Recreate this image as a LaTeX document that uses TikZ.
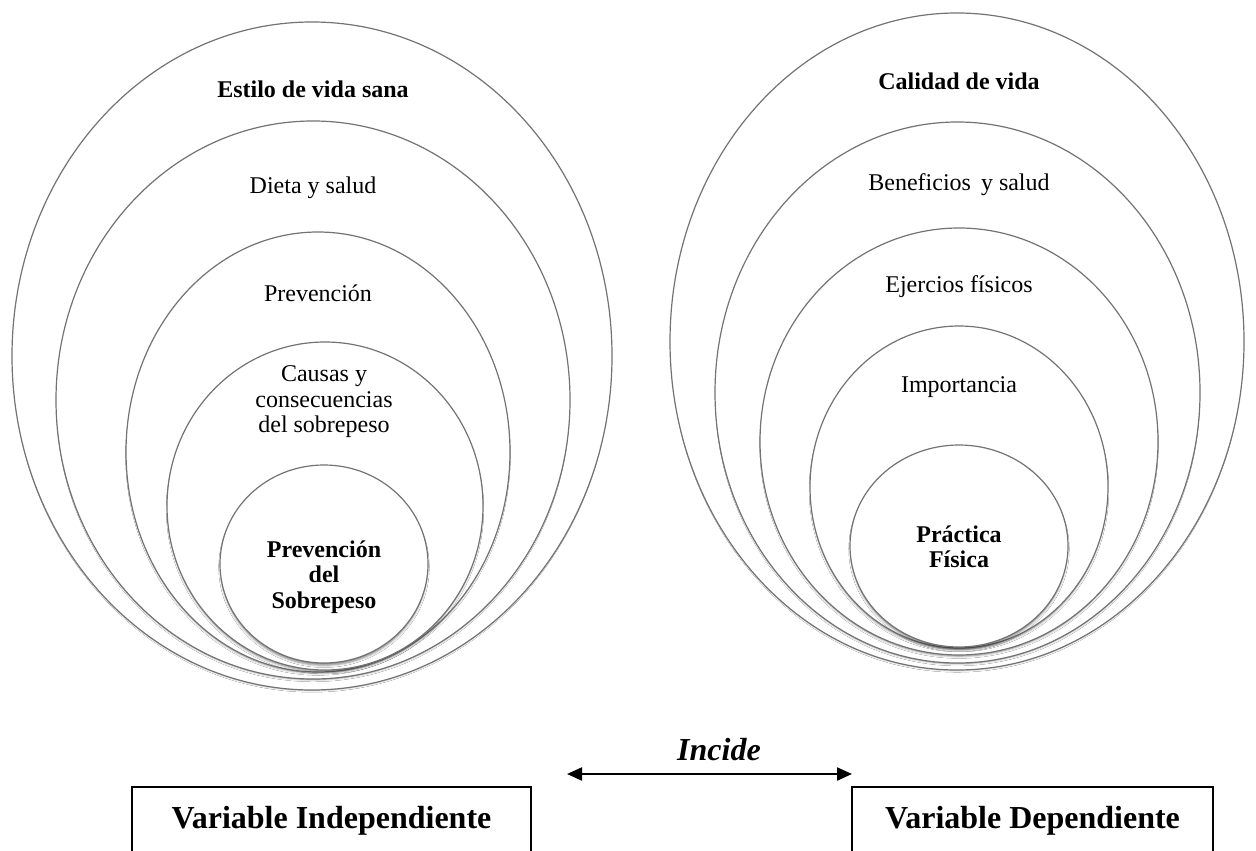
\documentclass[tikz,border=0pt]{standalone}
\usepackage{fontspec}
\setmainfont{Liberation Serif}
\usetikzlibrary{shapes.geometric,arrows.meta,shadows.blur}
\begin{document}
\begin{tikzpicture}[x=0.5pt,y=-0.5pt,
  ring/.style={ellipse, draw=black!55, line width=0.6pt, fill=white, inner sep=0pt,
    blur shadow={shadow xshift=0pt, shadow yshift=-1.6pt, shadow scale=0.99, shadow blur radius=1.2pt, shadow opacity=50}},
  lbl/.style={font=\fontsize{12}{12.75}\selectfont, align=center, inner sep=0pt},
  blbl/.style={font=\fontsize{12}{12.75}\selectfont\bfseries, align=center, inner sep=0pt},
  varbox/.style={draw, line width=0.8pt, anchor=north, inner sep=0pt, text height=21pt, text depth=40pt,
    font=\fontsize{16}{19}\selectfont\bfseries},
  both/.style={{Triangle[length=7.5pt,width=6.5pt]}-{Triangle[length=7.5pt,width=6.5pt]}, line width=1.1pt}
]
\useasboundingbox[fill=white] (0,0) rectangle (1256,850);

% left group
\node[ring, minimum width=300pt, minimum height=334pt] (e1) at (312,356) {};
\node[ring, minimum width=257pt, minimum height=279pt] (e2) at (313,400) {};
\node[ring, minimum width=192pt, minimum height=220pt] (e3) at (318,452) {};
\node[ring, minimum width=158pt, minimum height=164pt] (e4) at (325,506) {};
\node[ring, minimum width=104pt, minimum height=99pt] (e5) at (324,564) {};
\node[blbl] (t1) at (313,89) {Estilo de vida sana};
\node[lbl] (t2) at (313,188) {Dieta y salud};
\node[lbl] (t3) at (318,293) {Prevención};
\node[lbl] (t4) at (324,402) {Causas y\\consecuencias\\del sobrepeso};
\node[blbl] (t5) at (324,577) {Prevención\\del\\Sobrepeso};

% right group
\node[ring, minimum width=287pt, minimum height=328.5pt] (r1) at (957,341.5) {};
\node[ring, minimum width=242.5pt, minimum height=270.5pt] (r2) at (957.5,392.5) {};
\node[ring, minimum width=199pt, minimum height=213.5pt] (r3) at (959,441.5) {};
\node[ring, minimum width=149pt, minimum height=161pt] (r4) at (959,487) {};
\node[ring, minimum width=109pt, minimum height=101pt] (r5) at (959,546) {};
\node[blbl] (s1) at (959,81) {Calidad de vida};
\node[lbl] (s2) at (959,185) {Beneficios\, y salud};
\node[lbl] (s3) at (959,287) {Ejercios físicos};
\node[lbl] (s4) at (959,387) {Importancia};
\node[blbl] (s5) at (959,547) {Práctica\\Física};

% bottom
\coordinate (aL) at (567,774);
\coordinate (aR) at (852,774);
\draw[both] (aL) -- (aR);
\node[font=\fontsize{16}{19}\selectfont\bfseries\itshape, inner sep=0pt] (inc) at (719,750) {Incide};
\node[varbox, minimum width=199.5pt] (vi) at (331.5,786) {Variable Independiente};
\node[varbox, minimum width=180.5pt] (vd) at (1032.5,786) {Variable Dependiente};
\end{tikzpicture}
\end{document}
